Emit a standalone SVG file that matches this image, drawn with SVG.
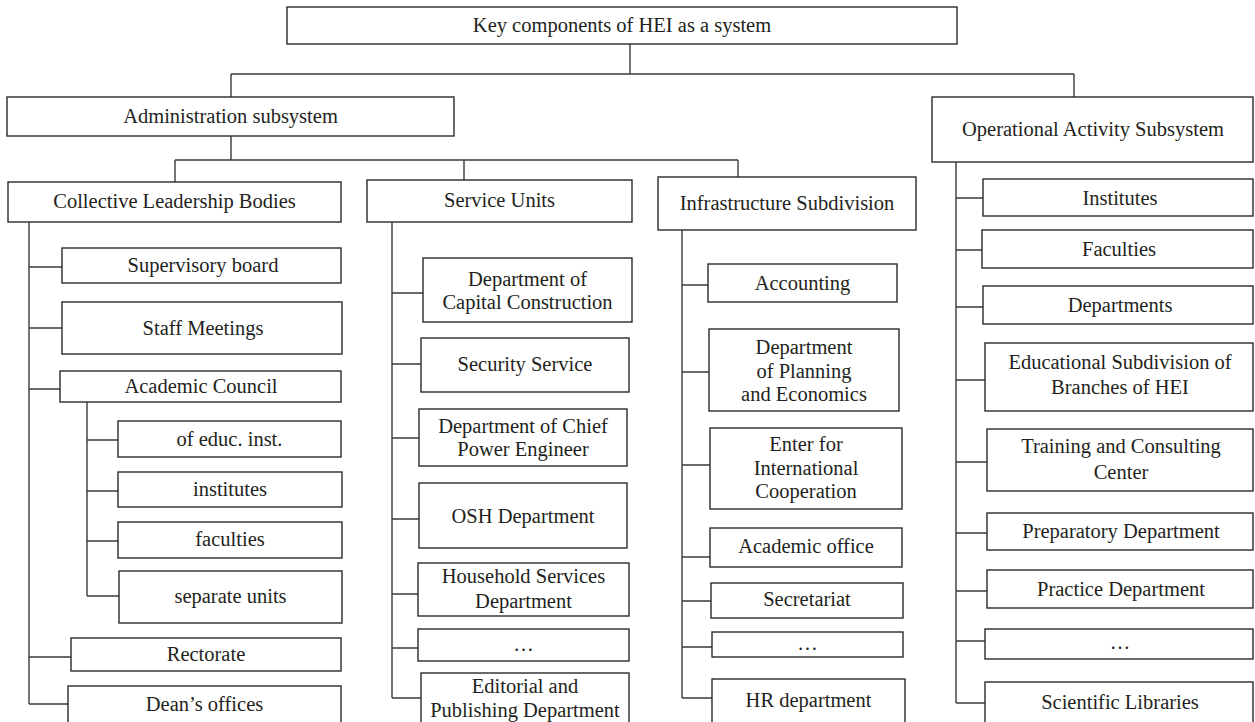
<svg xmlns="http://www.w3.org/2000/svg" width="1255" height="722" viewBox="0 0 1255 722">
<style>
rect{fill:#fff;stroke:#2a2a2a;stroke-width:1.4}
text{font-family:"Liberation Serif","Times New Roman",serif;font-size:20.5px;fill:#231f20;text-anchor:middle}
#connectors path{fill:none;stroke:#3a3a3a;stroke-width:1.4}
</style>
<rect x="0" y="0" width="1255" height="722" style="stroke:none;fill:#fff"/>
<g id="connectors">
<path d="M630 44V74M231 74H1074M231 74V97M1074 74V97"/>
<path d="M231 136V160M175 160H738M175 160V182M464 160V180M738 160V177"/>
<path d="M29 222V704M29 267H62M29 328H62M29 389H60M29 657H71M29 704H68"/>
<path d="M87 402V596M87 440H118M87 491H118M87 541H118M87 596H119"/>
<path d="M392 222V698M392 293H423M392 364H421M392 438H419M392 519H419M392 594H418M392 648H418M392 698H421"/>
<path d="M682 230V698M682 285H708M682 372H709M682 465H710M682 557H710M682 601H711M682 647H712M682 698H712"/>
<path d="M956 162V703M956 198H983M956 250H982M956 307H983M956 380H985M956 462H987M956 533H987M956 591H987M956 641H985M956 703H985"/>
</g>
<g id="root"><rect x="287" y="7" width="670" height="37"/><text x="622" y="32">Key components of HEI as a system</text></g>
<g id="admin"><rect x="7" y="97" width="447" height="39"/><text x="230.5" y="123">Administration subsystem</text></g>
<g id="operational"><rect x="932" y="97" width="321" height="65"/><text x="1093" y="136">Operational Activity Subsystem</text></g>
<g id="collective"><rect x="8" y="182" width="333" height="40"/><text x="174.5" y="208">Collective Leadership Bodies</text></g>
<g id="service"><rect x="367" y="180" width="265" height="42"/><text x="499.5" y="207">Service Units</text></g>
<g id="infra"><rect x="658" y="177" width="258" height="53"/><text x="787" y="210">Infrastructure Subdivision</text></g>
<g id="supervisory"><rect x="62" y="248" width="279" height="35"/><text x="203" y="272">Supervisory board</text></g>
<g id="staff"><rect x="62" y="302" width="280" height="52"/><text x="203" y="335">Staff Meetings</text></g>
<g id="academic-council"><rect x="60" y="371" width="281" height="31"/><text x="201" y="393">Academic Council</text></g>
<g id="educ-inst"><rect x="118" y="421" width="223" height="36"/><text x="229.5" y="446">of educ. inst.</text></g>
<g id="institutes-l"><rect x="118" y="472" width="224" height="35"/><text x="230" y="496">institutes</text></g>
<g id="faculties-l"><rect x="118" y="522" width="224" height="36"/><text x="230" y="546">faculties</text></g>
<g id="separate"><rect x="119" y="571" width="223" height="52"/><text x="230.5" y="603">separate units</text></g>
<g id="rectorate"><rect x="71" y="638" width="270" height="33"/><text x="206" y="661">Rectorate</text></g>
<g id="deans"><rect x="68" y="686" width="273" height="45"/><text x="204.5" y="711">Dean’s offices</text></g>
<g id="capital"><rect x="423" y="258" width="209" height="64"/><text x="527.5" y="286">Department of</text><text x="527.5" y="309">Capital Construction</text></g>
<g id="security"><rect x="421" y="338" width="208" height="54"/><text x="525" y="371">Security Service</text></g>
<g id="power"><rect x="419" y="409" width="208" height="57"/><text x="523" y="433">Department of Chief</text><text x="523" y="456">Power Engineer</text></g>
<g id="osh"><rect x="419" y="483" width="208" height="65"/><text x="523" y="523">OSH Department</text></g>
<g id="household"><rect x="418" y="563" width="211" height="53"/><text x="523.5" y="583">Household Services</text><text x="523.5" y="608">Department</text></g>
<g id="ellipsis-s"><rect x="418" y="629" width="211" height="32"/><text x="523.5" y="651">…</text></g>
<g id="editorial"><rect x="421" y="673" width="208" height="55"/><text x="525" y="693">Editorial and</text><text x="525" y="717">Publishing Department</text></g>
<g id="accounting"><rect x="708" y="264" width="189" height="38"/><text x="802.5" y="290">Accounting</text></g>
<g id="planning"><rect x="709" y="329" width="190" height="82"/><text x="804" y="354">Department</text><text x="804" y="378">of Planning</text><text x="804" y="401">and Economics</text></g>
<g id="international"><rect x="710" y="428" width="192" height="81"/><text x="806" y="451">Enter for</text><text x="806" y="475">International</text><text x="806" y="498">Cooperation</text></g>
<g id="academic-office"><rect x="710" y="528" width="192" height="39"/><text x="806" y="553">Academic office</text></g>
<g id="secretariat"><rect x="711" y="583" width="192" height="35"/><text x="807" y="606">Secretariat</text></g>
<g id="ellipsis-i"><rect x="712" y="632" width="191" height="25"/><text x="807.5" y="650">…</text></g>
<g id="hr"><rect x="712" y="679" width="193" height="50"/><text x="808.5" y="707">HR department</text></g>
<g id="institutes"><rect x="983" y="179" width="270" height="37"/><text x="1120" y="205">Institutes</text></g>
<g id="faculties"><rect x="982" y="230" width="271" height="38"/><text x="1119" y="256">Faculties</text></g>
<g id="departments"><rect x="983" y="286" width="270" height="38"/><text x="1120" y="312">Departments</text></g>
<g id="branches"><rect x="985" y="343" width="268" height="68"/><text x="1120" y="369">Educational Subdivision of</text><text x="1120" y="394">Branches of HEI</text></g>
<g id="training"><rect x="987" y="429" width="266" height="62"/><text x="1121" y="453">Training and Consulting</text><text x="1121" y="479">Center</text></g>
<g id="preparatory"><rect x="987" y="513" width="266" height="37"/><text x="1121" y="538">Preparatory Department</text></g>
<g id="practice"><rect x="987" y="570" width="266" height="38"/><text x="1121" y="596">Practice Department</text></g>
<g id="ellipsis-o"><rect x="985" y="629" width="268" height="30"/><text x="1120" y="649">…</text></g>
<g id="libraries"><rect x="985" y="682" width="268" height="45"/><text x="1120" y="709">Scientific Libraries</text></g>
</svg>
